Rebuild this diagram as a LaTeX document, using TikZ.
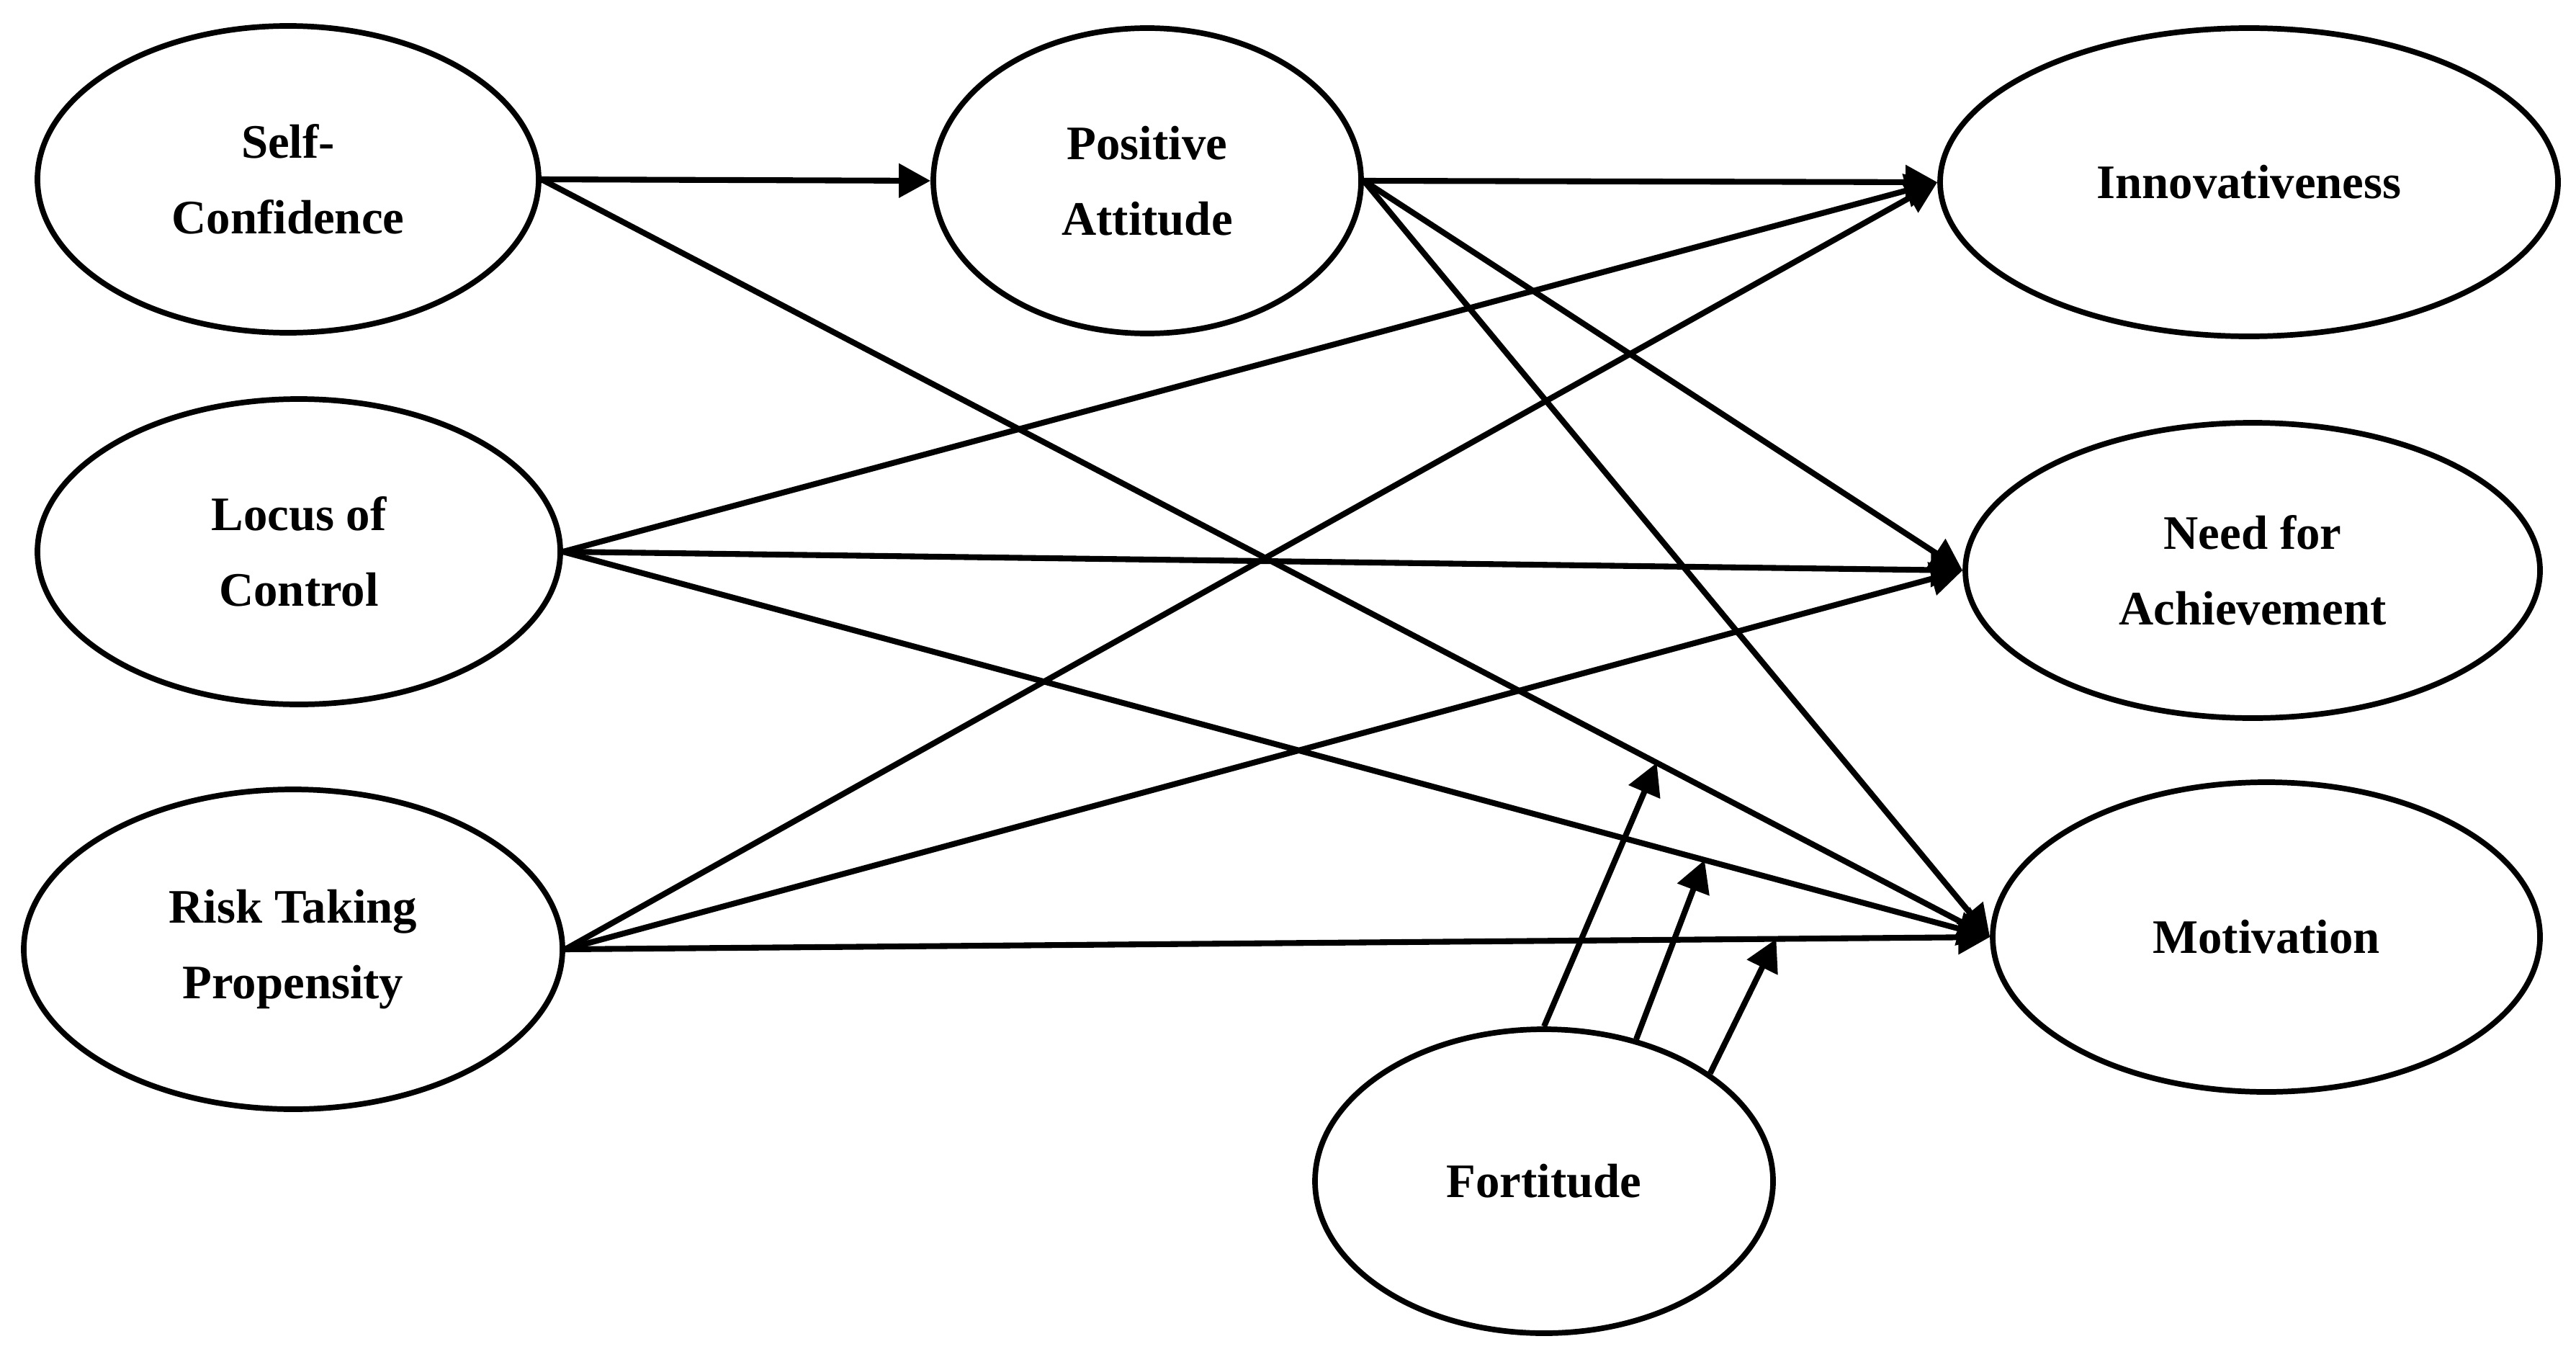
\documentclass[tikz,border=0pt]{standalone}
\usepackage{fontspec}
\setmainfont{Liberation Serif}
\usetikzlibrary{shapes.geometric,arrows.meta,calc}

\begin{document}
\begin{tikzpicture}[
    latent/.style={ellipse, draw, line width=2.2pt, inner sep=0pt, align=center,
      font=\fontsize{19}{30}\selectfont\bfseries},
    link/.style={line width=2.3pt, -{Triangle[length=4.4mm,width=4.6mm]}}]
		\useasboundingbox (0,0) rectangle (35.77,-18.91);

		\node[latent, minimum width=6.96cm, minimum height=4.26cm] (selfc) at (4.00,-2.49) {Self-\\Confidence};
		\node[latent, minimum width=7.26cm, minimum height=4.24cm] (locus) at (4.15,-7.66) {Locus of\\Control};
		\node[latent, minimum width=7.48cm, minimum height=4.44cm] (risk) at (4.07,-13.18) {Risk Taking\\Propensity};
		\node[latent, minimum width=5.94cm, minimum height=4.24cm] (posatt) at (15.93,-2.51) {Positive\\Attitude};
		\node[latent, minimum width=8.58cm, minimum height=4.28cm] (innov) at (31.23,-2.53) {Innovativeness};
		\node[latent, minimum width=7.98cm, minimum height=4.10cm] (nach) at (31.28,-7.92) {Need for\\Achievement};
		\node[latent, minimum width=7.60cm, minimum height=4.30cm] (motiv) at (31.47,-13.01) {Motivation};
		\node[latent, minimum width=6.36cm, minimum height=4.22cm] (fort) at (21.44,-16.40) {Fortitude};

		\draw[link] (selfc.east) -- (posatt.west);
		\draw[link] (selfc.east) -- (motiv.west);
		\draw[link] (posatt.east) -- (innov.west);
		\draw[link] (posatt.east) -- (nach.west);
		\draw[link] (posatt.east) -- (motiv.west);
		\draw[link] (locus.east) -- (innov.west);
		\draw[link] (locus.east) -- (nach.west);
		\draw[link] (locus.east) -- (motiv.west);
		\draw[link] (risk.east) -- (innov.west);
		\draw[link] (risk.east) -- (nach.west);
		\draw[link] (risk.east) -- (motiv.west);

		\coordinate (mod1) at ($(selfc.east)!0.77!(motiv.west)$);
		\coordinate (mod2) at ($(locus.east)!0.80!(motiv.west)$);
		\coordinate (mod3) at ($(risk.east)!0.85!(motiv.west)$);
		\draw[link] (fort.north) -- (mod1);
		\draw[link] (fort.57) -- (mod2);
		\draw[link] (fort.33) -- (mod3);
	\end{tikzpicture}
\end{document}
